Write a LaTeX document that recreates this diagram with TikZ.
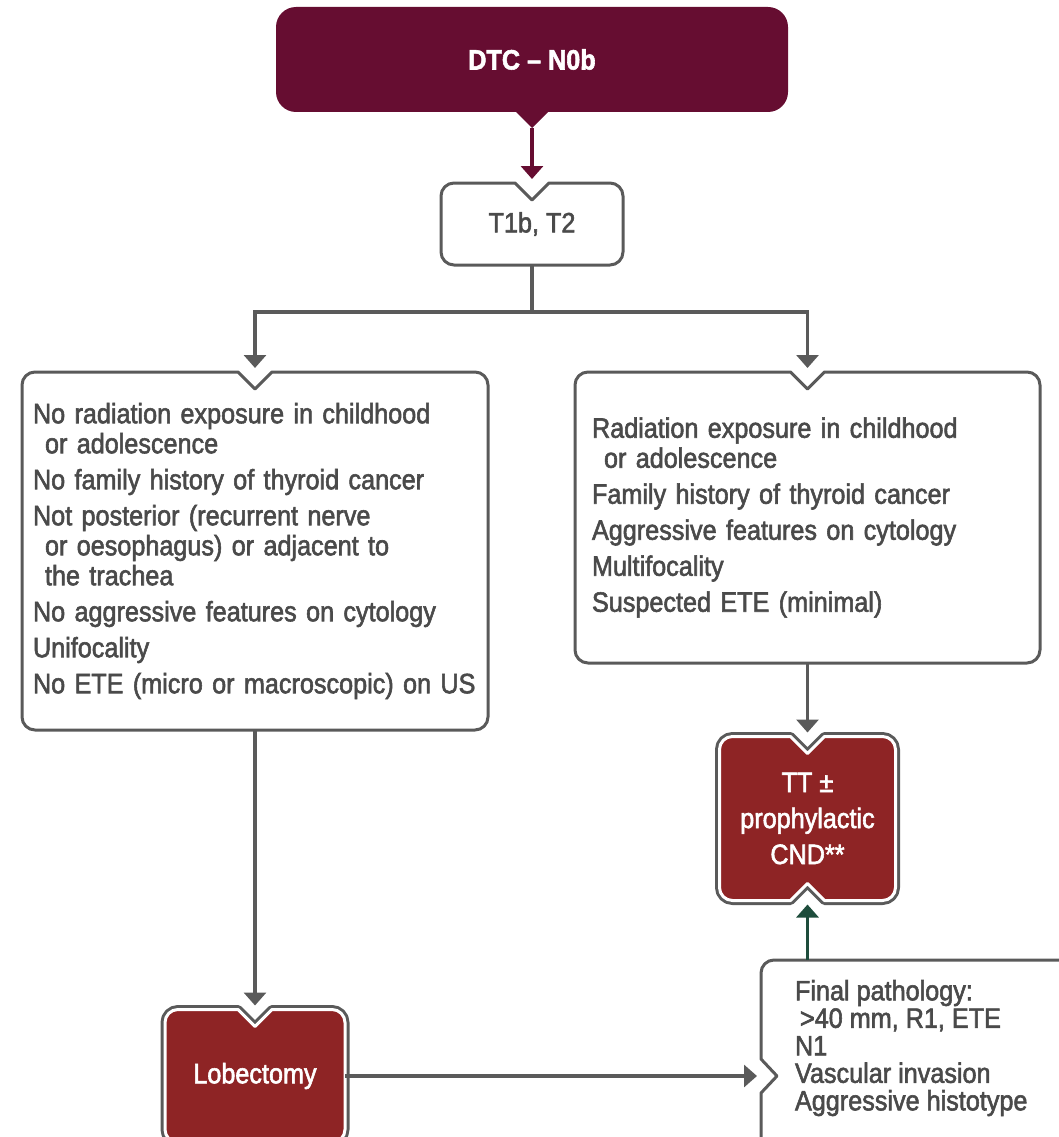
\documentclass[tikz,border=0pt]{standalone}
\usepackage{fontspec}
\setmainfont{Liberation Sans}[FakeStretch=0.9, FakeBold=2]
\usetikzlibrary{arrows.meta, calc, backgrounds}

\definecolor{dtcred}{HTML}{660D31}
\definecolor{boxred}{HTML}{8E2425}
\definecolor{linegray}{HTML}{5A5A5A}
\definecolor{txtgray}{HTML}{4A4A4A}
\definecolor{pathgreen}{HTML}{1E4D3C}

% outline of a box with notches: node, top depth, bottom depth, left depth
\newcommand{\notched}[4]{%
  ($(#1.north)+(-17,0)$) -- ($(#1.north west)+(13,0)$)
  arc[start angle=90, end angle=180, radius=13]
  -- ($(#1.west)+(0,17)$) -- ($(#1.west)+(#4,0)$) -- ($(#1.west)+(0,-17)$)
  -- ($(#1.south west)+(0,13)$)
  arc[start angle=180, end angle=270, radius=13]
  -- ($(#1.south)+(-17,0)$) -- ($(#1.south)+(0,#3)$) -- ($(#1.south)+(17,0)$)
  -- ($(#1.south east)+(-13,0)$)
  arc[start angle=270, end angle=360, radius=13]
  -- ($(#1.north east)+(0,-13)$)
  arc[start angle=0, end angle=90, radius=13]
  -- ($(#1.north)+(17,0)$) -- ($(#1.north)+(0,-#2)$) -- cycle}

\begin{document}
\begin{tikzpicture}[x=1pt, y=1pt]
	\tikzstyle{box} = [inner sep=0pt, outer sep=0pt, text=txtgray, font=\fontsize{28}{30}\selectfont]
	\tikzstyle{listbox} = [box, align=left, inner ysep=0pt]
	\tikzstyle{redtext} = [box, text=white, align=center, font=\fontsize{28}{36}\selectfont]
	\tikzstyle{whitebox} = [draw=linegray, line width=3pt, line join=round, fill=white]
	\tikzstyle{redbox} = [preaction={draw=linegray, line width=9pt, line join=round}, draw=white, line width=3pt, line join=round, fill=boxred]
	\tikzstyle{grayline} = [draw=linegray, line width=3.2pt]
	\tikzstyle{grayarrow} = [grayline, -{Triangle[width=22pt,length=13pt]}, shorten >=4pt]
	\tikzstyle{maroonarrow} = [grayarrow, draw=dtcred, fill=dtcred]
	\tikzstyle{greenarrow} = [grayarrow, draw=pathgreen, fill=pathgreen]
	\useasboundingbox (0,0) rectangle (1058,-1137);
	
	% Start
	\node[box, fill=dtcred, rounded corners=20pt, text=white, minimum width=512, minimum height=105, font=\fontsize{28}{30}\selectfont\bfseries] (dtc) at (532,-59.5) {DTC – N0b};
	\fill[dtcred] ($(dtc.south)+(-17,1)$) -- ($(dtc.south)+(17,1)$) -- ($(dtc.south)+(0,-16)$) coordinate (dtctip) -- cycle;
	
	\node[box, minimum width=182, minimum height=82] (t1b) at (532,-224) {T1b, T2};
	
	% Criteria boxes
	\node[listbox, text width=444, inner xsep=11pt, minimum height=358] (nolist) at (255,-551) {%
		No radiation exposure in childhood\\
		\hspace*{12pt}or adolescence\\[6pt]
		No family history of thyroid cancer\\[6pt]
		Not posterior (recurrent nerve\\
		\hspace*{12pt}or oesophagus) or adjacent to\\
		\hspace*{12pt}the trachea\\[6pt]
		No aggressive features on cytology\\[6pt]
		Unifocality\\[6pt]
		No ETE (micro or macroscopic) on US};
	\node[listbox, text width=431, inner xsep=17pt, minimum height=291] (yeslist) at (807.5,-517.5) {%
		Radiation exposure in childhood\\
		\hspace*{12pt}or adolescence\\[6pt]
		Family history of thyroid cancer\\[6pt]
		Aggressive features on cytology\\[6pt]
		Multifocality\\[6pt]
		Suspected ETE (minimal)};
	
	% Treatments
	\node[redtext, minimum width=176, minimum height=164] (tt) at (807.5,-818.5) {TT ±\\ prophylactic\\ CND**};
	\node[redtext, minimum width=180, minimum height=133] (lobe) at (255,-1076) {Lobectomy};
	
	% Final pathology
	\node[box, minimum width=324, minimum height=232] (final) at (923,-1076) {};
	\node[listbox, anchor=north west, font=\fontsize{28}{27.5}\selectfont] (finaltxt) at ($(final.north west)+(34,-20)$) {%
		Final pathology:\\
		\hspace*{5pt}>40 mm, R1, ETE\\
		N1\\
		Vascular invasion\\
		Aggressive histotype};
	
	% Box outlines
	\begin{pgfonlayer}{background}
		\draw[whitebox] \notched{t1b}{17}{0}{0};
		\draw[whitebox] \notched{nolist}{17}{0}{0};
		\draw[whitebox] \notched{yeslist}{17}{0}{0};
		\draw[whitebox] \notched{final}{0}{0}{16};
		\draw[redbox] \notched{tt}{17}{17}{0};
		\draw[redbox] \notched{lobe}{17}{0}{0};
	\end{pgfonlayer}
	
	% Connectors
	\coordinate (split) at (532,-312);
	\draw[maroonarrow] (dtctip) -- (t1b.north);
	\draw[grayline] (t1b.south) -- (split);
	\draw[grayarrow] (split) -| (nolist.north);
	\draw[grayarrow] (split) -| (yeslist.north);
	\draw[grayarrow] (yeslist.south) -- (tt.north);
	\draw[grayarrow] (nolist.south) -- (lobe.north);
	\draw[grayarrow] (lobe.east) -- (final.west);
	\draw[greenarrow] (tt.south |- final.north) -- (tt.south);
\end{tikzpicture}
\end{document}
